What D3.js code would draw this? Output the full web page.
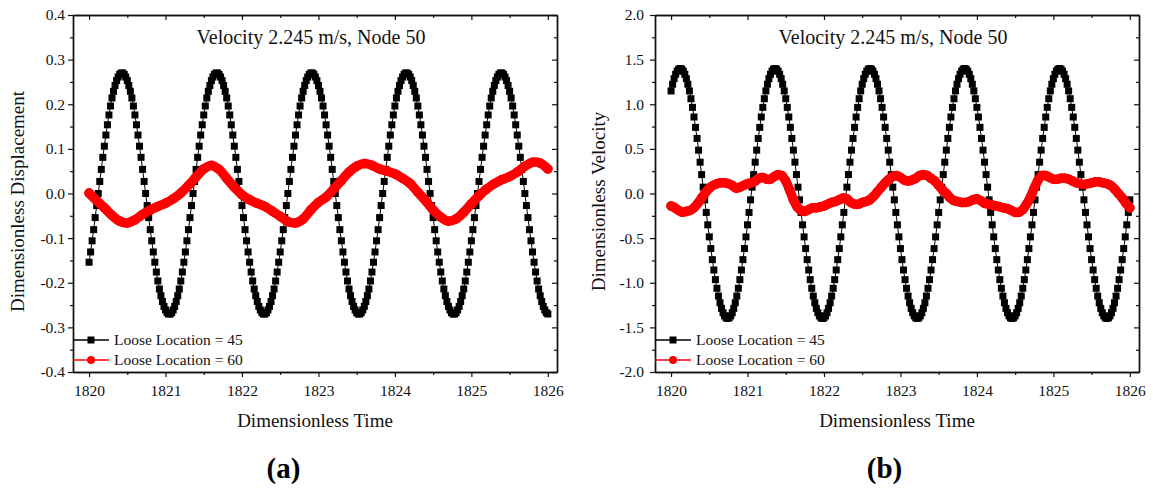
<!DOCTYPE html>
<html>
<head>
<meta charset="utf-8">
<script src="https://cdn.jsdelivr.net/npm/d3@7"></script>
<style>
  body { margin: 0; background: #fff; }
  svg { display: block; }
</style>
</head>
<body>
<svg id="chart" width="1153" height="490"></svg>
<script>
// ---- data ----
const timeStart = 1820;
const blackStep = 0.02;   // spacing of the square markers
const xTicks = [1820, 1821, 1822, 1823, 1824, 1825, 1826];
const dispTicks = [-0.4, -0.3, -0.2, -0.1, 0.0, 0.1, 0.2, 0.3, 0.4];
const velTicks = [-2.0, -1.5, -1.0, -0.5, 0.0, 0.5, 1.0, 1.5, 2.0];
const seriesNames = ['Loose Location = 45', 'Loose Location = 60'];
const panelTitle = 'Velocity 2.245 m/s, Node 50';
const xTitle = 'Dimensionless Time';

// Loose Location = 45, displacement (t = 1820 .. 1826, step 0.02)
const blackDisp = [
  -.154,-.131,-.106,-.081,-.054,-.027,
  0,.027,.054,.081,.106,.131,.154,.176,.196,.214,.229,.242,.253,.261,.267,.270,
  .270,.267,.261,.253,.242,.229,.214,.196,.176,.154,.131,.106,.081,.054,.027,
  0,-.027,-.054,-.081,-.106,-.131,-.154,-.176,-.196,-.214,-.229,-.242,-.253,-.261,-.267,-.270,
  -.270,-.267,-.261,-.253,-.242,-.229,-.214,-.196,-.176,-.154,-.131,-.106,-.081,-.054,-.027,
  0,.027,.054,.081,.106,.131,.154,.176,.196,.214,.229,.242,.253,.261,.267,.270,
  .270,.267,.261,.253,.242,.229,.214,.196,.176,.154,.131,.106,.081,.054,.027,
  0,-.027,-.054,-.081,-.106,-.131,-.154,-.176,-.196,-.214,-.229,-.242,-.253,-.261,-.267,-.270,
  -.270,-.267,-.261,-.253,-.242,-.229,-.214,-.196,-.176,-.154,-.131,-.106,-.081,-.054,-.027,
  0,.027,.054,.081,.106,.131,.154,.176,.196,.214,.229,.242,.253,.261,.267,.270,
  .270,.267,.261,.253,.242,.229,.214,.196,.176,.154,.131,.106,.081,.054,.027,
  0,-.027,-.054,-.081,-.106,-.131,-.154,-.176,-.196,-.214,-.229,-.242,-.253,-.261,-.267,-.270,
  -.270,-.267,-.261,-.253,-.242,-.229,-.214,-.196,-.176,-.154,-.131,-.106,-.081,-.054,-.027,
  0,.027,.054,.081,.106,.131,.154,.176,.196,.214,.229,.242,.253,.261,.267,.270,
  .270,.267,.261,.253,.242,.229,.214,.196,.176,.154,.131,.106,.081,.054,.027,
  0,-.027,-.054,-.081,-.106,-.131,-.154,-.176,-.196,-.214,-.229,-.242,-.253,-.261,-.267,-.270,
  -.270,-.267,-.261,-.253,-.242,-.229,-.214,-.196,-.176,-.154,-.131,-.106,-.081,-.054,-.027,
  0,.027,.054,.081,.106,.131,.154,.176,.196,.214,.229,.242,.253,.261,.267,.270,
  .270,.267,.261,.253,.242,.229,.214,.196,.176,.154,.131,.106,.081,.054,.027,
  0,-.027,-.054,-.081,-.106,-.131,-.154,-.176,-.196,-.214,-.229,-.242,-.253,-.261,-.267,-.270
];

// Loose Location = 45, velocity (t = 1820 .. 1826, step 0.02)
const blackVel = [
  1.149,1.224,1.287,1.336,1.371,1.393,
  1.400,1.393,1.371,1.336,1.287,1.224,1.149,1.062,.965,.857,.741,.617,.486,.351,.212,.071,
  -.071,-.212,-.351,-.486,-.617,-.741,-.857,-.965,-1.062,-1.149,-1.224,-1.287,-1.336,-1.371,-1.393,-1.400,
  -1.393,-1.371,-1.336,-1.287,-1.224,-1.149,-1.062,-.965,-.857,-.741,-.617,-.486,-.351,-.212,-.071,
  .071,.212,.351,.486,.617,.741,.857,.965,1.062,1.149,1.224,1.287,1.336,1.371,1.393,
  1.400,1.393,1.371,1.336,1.287,1.224,1.149,1.062,.965,.857,.741,.617,.486,.351,.212,.071,
  -.071,-.212,-.351,-.486,-.617,-.741,-.857,-.965,-1.062,-1.149,-1.224,-1.287,-1.336,-1.371,-1.393,-1.400,
  -1.393,-1.371,-1.336,-1.287,-1.224,-1.149,-1.062,-.965,-.857,-.741,-.617,-.486,-.351,-.212,-.071,
  .071,.212,.351,.486,.617,.741,.857,.965,1.062,1.149,1.224,1.287,1.336,1.371,1.393,
  1.400,1.393,1.371,1.336,1.287,1.224,1.149,1.062,.965,.857,.741,.617,.486,.351,.212,.071,
  -.071,-.212,-.351,-.486,-.617,-.741,-.857,-.965,-1.062,-1.149,-1.224,-1.287,-1.336,-1.371,-1.393,-1.400,
  -1.393,-1.371,-1.336,-1.287,-1.224,-1.149,-1.062,-.965,-.857,-.741,-.617,-.486,-.351,-.212,-.071,
  .071,.212,.351,.486,.617,.741,.857,.965,1.062,1.149,1.224,1.287,1.336,1.371,1.393,
  1.400,1.393,1.371,1.336,1.287,1.224,1.149,1.062,.965,.857,.741,.617,.486,.351,.212,.071,
  -.071,-.212,-.351,-.486,-.617,-.741,-.857,-.965,-1.062,-1.149,-1.224,-1.287,-1.336,-1.371,-1.393,-1.400,
  -1.393,-1.371,-1.336,-1.287,-1.224,-1.149,-1.062,-.965,-.857,-.741,-.617,-.486,-.351,-.212,-.071,
  .071,.212,.351,.486,.617,.741,.857,.965,1.062,1.149,1.224,1.287,1.336,1.371,1.393,
  1.400,1.393,1.371,1.336,1.287,1.224,1.149,1.062,.965,.857,.741,.617,.486,.351,.212,.071,
  -.071,-.212,-.351,-.486,-.617,-.741,-.857,-.965,-1.062,-1.149,-1.224,-1.287,-1.336,-1.371,-1.393,-1.400,
  -1.393,-1.371,-1.336,-1.287,-1.224,-1.149,-1.062,-.965,-.857,-.741,-.617,-.486,-.351,-.212,-.071
];

// Loose Location = 60, displacement (step 0.1)
const redDispStep = 0.1;
const redDisp = [
  0.001,-0.016,-0.032,-0.049,-0.062,-0.066,-0.059,-0.047,-0.037,-0.029,
  -0.022,-0.012,0.001,0.018,0.037,0.055,0.063,0.054,0.034,0.014,
  -0.003,-0.014,-0.022,-0.029,-0.040,-0.051,-0.063,-0.066,-0.057,-0.037,
  -0.020,-0.008,0.010,0.029,0.048,0.061,0.067,0.063,0.055,0.050,
  0.044,0.034,0.022,0.003,-0.016,-0.037,-0.053,-0.062,-0.057,-0.042,
  -0.023,-0.005,0.010,0.022,0.031,0.038,0.048,0.061,0.070,0.068,
  0.055
];

// Loose Location = 60, velocity (step 0.05)
const redVelStep = 0.05;
const redVel = [
  -0.14,-0.16,-0.19,-0.21,-0.20,-0.19,-0.16,-0.11,-0.05,0.01,
  0.06,0.09,0.11,0.12,0.12,0.11,0.09,0.06,0.07,0.09,
  0.11,0.12,0.14,0.17,0.18,0.16,0.16,0.19,0.21,0.20,
  0.14,0.04,-0.07,-0.15,-0.19,-0.20,-0.18,-0.16,-0.16,-0.15,
  -0.14,-0.12,-0.10,-0.09,-0.07,-0.05,-0.06,-0.10,-0.12,-0.12,
  -0.10,-0.09,-0.07,-0.03,0.02,0.07,0.12,0.16,0.19,0.20,
  0.18,0.15,0.14,0.15,0.17,0.20,0.21,0.20,0.17,0.14,
  0.09,0.04,0.00,-0.05,-0.08,-0.09,-0.10,-0.10,-0.09,-0.07,
  -0.06,-0.08,-0.11,-0.12,-0.13,-0.14,-0.15,-0.16,-0.17,-0.19,
  -0.21,-0.21,-0.18,-0.12,-0.04,0.06,0.15,0.20,0.20,0.18,
  0.16,0.16,0.17,0.17,0.16,0.14,0.12,0.11,0.10,0.11,
  0.12,0.13,0.13,0.12,0.11,0.09,0.05,0.00,-0.05,-0.11,
  -0.16
];

// ---- layout ----
const FONT = 'Liberation Serif, Times New Roman, serif';
const plotTop = 15;
const plotW = 484;
const plotH = 357;
const xDomain = [1819.79, 1826.12];

const panels = [
  { left: 73, yDomain: [-0.4, 0.4], yTicks: dispTicks, yMinorStep: 0.05,
    black: blackDisp, red: redDisp, redStep: redDispStep,
    yTitle: 'Dimensionless Displacement', yTitleX: 24, labelPad: 3, tag: '(a)', tagX: 283.5 },
  { left: 655, yDomain: [-2, 2], yTicks: velTicks, yMinorStep: 0.25,
    black: blackVel, red: redVel, redStep: redVelStep,
    yTitle: 'Dimensionless Velocity', yTitleX: 605, labelPad: 6, tag: '(b)', tagX: 884.5 }
];

const svg = d3.select('#chart');

function styleAxis(sel, size) {
    sel.attr('font-family', FONT).attr('font-size', size);
    sel.selectAll('line').attr('stroke', '#111').attr('stroke-width', 1.2);
    sel.selectAll('path.domain').attr('stroke', '#111').attr('stroke-width', 1.4);
    sel.selectAll('text')
        .attr('fill', '#111')
        .style('font-family', FONT)
        .style('font-size', size + 'px');
}

function drawPanel(p) {
    const x = d3.scaleLinear().domain(xDomain).range([p.left, p.left + plotW]);
    const y = d3.scaleLinear().domain(p.yDomain).range([plotTop + plotH, plotTop]);
    const g = svg.append('g');

    const xMinor = xTicks.slice(0, -1).map(d => d + 0.5);
    const yMinor = p.yTicks.slice(0, -1).map(d => d + p.yMinorStep);

    // bottom / left: outward, labelled
    g.append('g').attr('transform', `translate(0,${plotTop + plotH})`)
        .call(d3.axisBottom(x).tickValues(xTicks).tickSize(5).tickSizeOuter(0).tickPadding(8).tickFormat(d3.format('d')))
        .call(s => styleAxis(s, 15.5));
    g.append('g').attr('transform', `translate(0,${plotTop + plotH})`)
        .call(d3.axisBottom(x).tickValues(xMinor).tickSize(3).tickSizeOuter(0).tickFormat(''))
        .call(s => styleAxis(s, 15.5));
    g.append('g').attr('transform', `translate(${p.left},0)`)
        .call(d3.axisLeft(y).tickValues(p.yTicks).tickSize(5).tickSizeOuter(0).tickPadding(p.labelPad).tickFormat(d => d.toFixed(1)))
        .call(s => styleAxis(s, 15.5));
    g.append('g').attr('transform', `translate(${p.left},0)`)
        .call(d3.axisLeft(y).tickValues(yMinor).tickSize(3).tickSizeOuter(0).tickFormat(''))
        .call(s => styleAxis(s, 15.5));

    // top / right: inward, no labels
    g.append('g').attr('transform', `translate(0,${plotTop})`)
        .call(d3.axisTop(x).tickValues(xTicks).tickSize(-5).tickSizeOuter(0).tickFormat(''))
        .call(s => styleAxis(s, 15));
    g.append('g').attr('transform', `translate(0,${plotTop})`)
        .call(d3.axisTop(x).tickValues(xMinor).tickSize(-3).tickSizeOuter(0).tickFormat(''))
        .call(s => styleAxis(s, 15));
    g.append('g').attr('transform', `translate(${p.left + plotW},0)`)
        .call(d3.axisRight(y).tickValues(p.yTicks).tickSize(-5).tickSizeOuter(0).tickFormat(''))
        .call(s => styleAxis(s, 15));
    g.append('g').attr('transform', `translate(${p.left + plotW},0)`)
        .call(d3.axisRight(y).tickValues(yMinor).tickSize(-3).tickSizeOuter(0).tickFormat(''))
        .call(s => styleAxis(s, 15));

    const blackPts = p.black.map((v, i) => ({ t: timeStart + i * blackStep, v }));
    const redPts = p.red.map((v, i) => ({ t: timeStart + i * p.redStep, v }));

    // black series: thin line + squares
    g.append('path')
        .datum(blackPts)
        .attr('fill', 'none')
        .attr('stroke', '#000')
        .attr('stroke-width', 1)
        .attr('d', d3.line().x(d => x(d.t)).y(d => y(d.v)));

    g.selectAll('rect.sq')
        .data(blackPts)
        .enter()
        .append('rect')
        .attr('class', 'sq')
        .attr('x', d => x(d.t) - 3.5)
        .attr('y', d => y(d.v) - 3.5)
        .attr('width', 7)
        .attr('height', 7)
        .attr('fill', '#000');

    // red series: dense circles, reads as a thick band
    g.append('path')
        .datum(redPts)
        .attr('fill', 'none')
        .attr('stroke', '#ff0000')
        .attr('stroke-width', 9.5)
        .attr('stroke-linecap', 'round')
        .attr('stroke-linejoin', 'round')
        .attr('d', d3.line().curve(d3.curveCatmullRom).x(d => x(d.t)).y(d => y(d.v)));

    g.selectAll('circle.dot')
        .data(redPts)
        .enter()
        .append('circle')
        .attr('class', 'dot')
        .attr('cx', d => x(d.t))
        .attr('cy', d => y(d.v))
        .attr('r', 4.8)
        .attr('fill', '#ff0000');

    // legend
    const legRows = [340, 360];
    seriesNames.forEach((name, i) => {
        const ly = legRows[i];
        const colour = i === 0 ? '#000' : '#ff0000';
        g.append('line')
            .attr('x1', p.left).attr('x2', p.left + 36)
            .attr('y1', ly).attr('y2', ly)
            .attr('stroke', colour)
            .attr('stroke-width', 1.6);
        if (i === 0) {
            g.append('rect')
                .attr('x', p.left + 18 - 3.5).attr('y', ly - 3.5)
                .attr('width', 7).attr('height', 7)
                .attr('fill', colour);
        } else {
            g.append('circle')
                .attr('cx', p.left + 18).attr('cy', ly)
                .attr('r', 4)
                .attr('fill', colour);
        }
        g.append('text')
            .attr('x', p.left + 41)
            .attr('y', ly + 5)
            .style('font-family', FONT)
            .style('font-size', '15.5px')
            .attr('fill', '#111')
            .text(name);
    });

    // titles
    g.append('text')
        .attr('x', p.left + plotW / 2 - 4)
        .attr('y', 44)
        .attr('text-anchor', 'middle')
        .style('font-family', FONT)
        .style('font-size', '20px')
        .attr('fill', '#111')
        .text(panelTitle);

    g.append('text')
        .attr('x', p.left + plotW / 2)
        .attr('y', 427)
        .attr('text-anchor', 'middle')
        .style('font-family', FONT)
        .style('font-size', '19px')
        .attr('fill', '#111')
        .text(xTitle);

    g.append('text')
        .attr('transform', `translate(${p.yTitleX},${plotTop + plotH / 2 + 8}) rotate(-90)`)
        .attr('text-anchor', 'middle')
        .style('font-family', FONT)
        .style('font-size', '19px')
        .attr('fill', '#111')
        .text(p.yTitle);

    g.append('text')
        .attr('x', p.tagX)
        .attr('y', 478)
        .attr('text-anchor', 'middle')
        .style('font-family', FONT)
        .style('font-size', '29px')
        .style('font-weight', 'bold')
        .attr('fill', '#000')
        .text(p.tag);
}

panels.forEach(drawPanel);
</script>
</body>
</html>
